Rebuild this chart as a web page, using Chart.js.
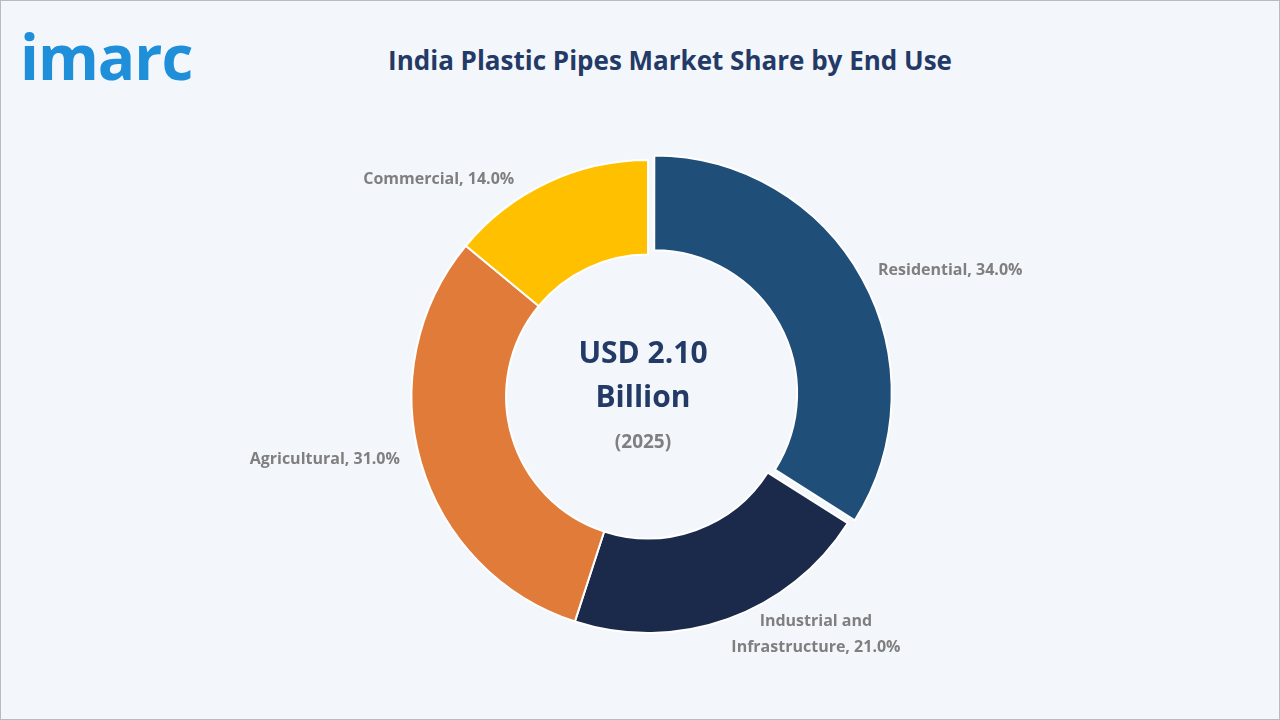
<!DOCTYPE html>
<html>
<head>
<meta charset="utf-8">
<script src="https://cdn.jsdelivr.net/npm/chart.js@4"></script>
<style>
  body { margin: 0; width: 1280px; height: 720px; background: #f3f6fa; font-family: "Open Sans", "DejaVu Sans", sans-serif; overflow: hidden; }
  #frame { position: absolute; left: 0; top: 0; width: 1278px; height: 718px; border: 1px solid #b8bcc2; }
  #logo { position: absolute; left: 20px; top: 14px; font: bold 62px "Open Sans", sans-serif; color: #1e8fd8; letter-spacing: -1px; }
  #title { position: absolute; left: 0; width: 1340px; top: 42px; text-align: center; font: bold 26px "Open Sans", sans-serif; color: #233a66; }
  #wrap { position: absolute; left: 0; top: 0; width: 1280px; height: 720px; }
</style>
</head>
<body>
<div id="frame"></div>
<div id="logo">imarc</div>
<div id="title">India Plastic Pipes Market Share by End Use</div>
<div id="wrap"><canvas id="pie"></canvas></div>
<script>
// data
const categories = ['Residential', 'Industrial and Infrastructure', 'Agricultural', 'Commercial'];
const shares = [34.0, 21.0, 31.0, 14.0];
const colors = ['#1f4e79', '#1b2a4a', '#e07b39', '#ffc000'];

// labels next to each slice
const sliceLabels = {
    id: 'sliceLabels',
    afterDraw(chart) {
        const ctx = chart.ctx;
        const arcs = chart.getDatasetMeta(0).data;
        ctx.save();
        ctx.font = 'bold 16px "Open Sans", sans-serif';
        ctx.fillStyle = '#7f7f7f';
        ctx.textBaseline = 'middle';
        arcs.forEach((arc, i) => {
            const mid = (arc.startAngle + arc.endAngle) / 2;
            const r = arc.outerRadius + 26;
            const x = arc.x + Math.cos(mid) * r;
            const y = arc.y + Math.sin(mid) * r;
            const text = categories[i] + ', ' + shares[i].toFixed(1) + '%';
            if (Math.sin(mid) > 0.85) {
                // bottom label, split into two lines
                ctx.textAlign = 'center';
                ctx.fillText('Industrial and', x + 79, y - 22);
                ctx.fillText('Infrastructure, ' + shares[i].toFixed(1) + '%', x + 79, y + 4);
            } else if (Math.cos(mid) >= 0) {
                ctx.textAlign = 'left';
                ctx.fillText(text, x, y);
            } else if (Math.sin(mid) < -0.7) {
                ctx.textAlign = 'right';
                ctx.fillText(text, x - 22, y + 20);
            } else {
                ctx.textAlign = 'right';
                ctx.fillText(text, x + 4, y - 10);
            }
        });
        // centre text
        ctx.textAlign = 'center';
        ctx.fillStyle = '#233a66';
        ctx.font = 'bold 30px "Open Sans", sans-serif';
        ctx.fillText('USD 2.10', 643, 354);
        ctx.fillText('Billion', 643, 398);
        ctx.fillStyle = '#7f7f7f';
        ctx.font = 'bold 19px "Open Sans", sans-serif';
        ctx.fillText('(2025)', 643, 443);
        ctx.restore();
    }
};

new Chart(document.getElementById('pie'), {
    type: 'doughnut',
    data: {
        labels: categories,
        datasets: [{
            data: shares,
            backgroundColor: colors,
            borderColor: '#ffffff',
            borderWidth: 2,
            offset: [28, 0, 0, 0]
        }]
    },
    options: {
        responsive: true,
        maintainAspectRatio: false,
        animation: false,
        cutout: '60%',
        layout: { padding: { left: 396, right: 380, top: 145, bottom: 72 } },
        plugins: { legend: { display: false }, tooltip: { enabled: false } }
    },
    plugins: [sliceLabels]
});
</script>
</body>
</html>
